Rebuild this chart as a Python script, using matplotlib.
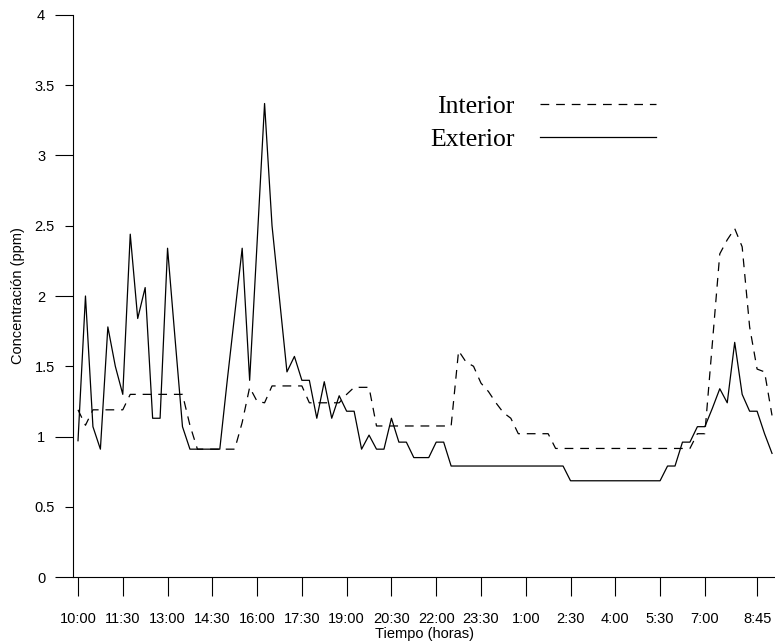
import matplotlib
matplotlib.use('Agg')
import matplotlib.pyplot as plt
import numpy as np

plt.rcParams['font.family'] = ['Liberation Sans', 'DejaVu Sans']

# concentracion cada 15 minutos, desde las 10:00
interior = [1.19, 1.08, 1.19, 1.19, 1.19, 1.19, 1.19, 1.30, 1.30, 1.30,
            1.30, 1.30, 1.30, 1.30, 1.30, 1.08, 0.91, 0.91, 0.91, 0.91,
            0.91, 0.91, 1.10, 1.35, 1.25, 1.24, 1.36, 1.36, 1.36, 1.36,
            1.36, 1.24, 1.24, 1.24, 1.24, 1.24, 1.30, 1.35, 1.35, 1.35,
            1.075, 1.075, 1.075, 1.075, 1.075, 1.075, 1.075, 1.075, 1.075, 1.075,
            1.075, 1.61, 1.53, 1.50, 1.38, 1.32, 1.24, 1.17, 1.13, 1.02,
            1.02, 1.02, 1.02, 1.02, 0.915, 0.915, 0.915, 0.915, 0.915, 0.915,
            0.915, 0.915, 0.915, 0.915, 0.915, 0.915, 0.915, 0.915, 0.915, 0.915,
            0.915, 0.915, 0.915, 1.02, 1.02, 1.66, 2.30, 2.40, 2.48, 2.35,
            1.78, 1.48, 1.46, 1.15]

exterior = [0.97, 2.00, 1.07, 0.91, 1.78, 1.50, 1.30, 2.44, 1.84, 2.06,
            1.13, 1.13, 2.34, 1.70, 1.07, 0.91, 0.91, 0.91, 0.91, 0.91,
            1.40, 1.87, 2.34, 1.40, 2.38, 3.37, 2.50, 1.98, 1.46, 1.57,
            1.40, 1.40, 1.13, 1.39, 1.13, 1.29, 1.18, 1.18, 0.91, 1.01,
            0.91, 0.91, 1.13, 0.96, 0.96, 0.85, 0.85, 0.85, 0.96, 0.96,
            0.79, 0.79, 0.79, 0.79, 0.79, 0.79, 0.79, 0.79, 0.79, 0.79,
            0.79, 0.79, 0.79, 0.79, 0.79, 0.79, 0.685, 0.685, 0.685, 0.685,
            0.685, 0.685, 0.685, 0.685, 0.685, 0.685, 0.685, 0.685, 0.685, 0.79,
            0.79, 0.96, 0.96, 1.07, 1.07, 1.20, 1.34, 1.24, 1.67, 1.30,
            1.18, 1.18, 1.02, 0.88]

etiquetas_x = ["10:00", "11:30", "13:00", "14:30", "16:00", "17:30", "19:00", "20:30",
               "22:00", "23:30", "1:00", "2:30", "4:00", "5:30", "7:00", "8:45"]
yticks_mayor = [0, 1, 2, 3, 4]
yticks_menor = [0.5, 1.5, 2.5, 3.5]

inicio = 10 * 60
tiempos = ["{}:{:02d}".format(((inicio + 15 * k) // 60) % 24, (inicio + 15 * k) % 60)
           for k in range(len(exterior))]
x = np.arange(len(exterior))

fig = plt.figure(figsize=(7.75, 6.43), dpi=100)
ax = fig.add_axes([0.0942, 0.1026, 0.9058, 0.8741])

ax.plot(x, interior, color='black', lw=0.9, dashes=(7, 5.5), label='Interior')
ax.plot(x, exterior, color='black', lw=0.9, label='Exterior')

ax.set_xlim(-0.67, 93.4)
ax.set_ylim(0, 4)
ax.set_xticks([tiempos.index(t) for t in etiquetas_x])
ax.set_xticklabels(etiquetas_x, fontsize=10.5)
ax.set_yticks(yticks_mayor)
ax.set_yticklabels([("%g" % v) for v in yticks_mayor], fontsize=10.5)
ax.set_yticks(yticks_menor, minor=True)
ax.set_yticklabels([("%g" % v) for v in yticks_menor], fontsize=10.5, minor=True)
ax.tick_params(axis='x', direction='out', length=14, width=0.8, pad=11)
ax.tick_params(axis='y', which='major', direction='out', length=13, width=0.8, pad=7)
ax.tick_params(axis='y', which='minor', direction='out', length=6, width=0.8, pad=7)

for s in ['top', 'right']:
    ax.spines[s].set_visible(False)
for s in ['left', 'bottom']:
    ax.spines[s].set_linewidth(0.8)

ax.set_xlabel("Tiempo (horas)", fontsize=10.5, labelpad=1)
ax.set_ylabel("Concentración (ppm)", fontsize=10.5, labelpad=7)

ax.legend(loc='upper left', bbox_to_anchor=(0.49, 0.88), frameon=False,
          markerfirst=False, handlelength=4.5, handletextpad=1.0,
          labelspacing=0.37, borderpad=0,
          prop={'family': 'Liberation Serif', 'size': 18.5})

plt.savefig("out.png", dpi=100)
